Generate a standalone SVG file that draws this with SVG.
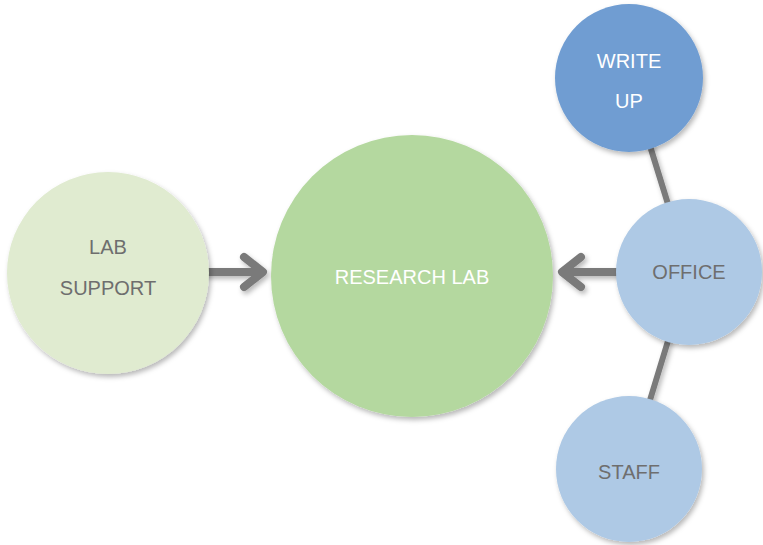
<svg xmlns="http://www.w3.org/2000/svg" width="763" height="545" viewBox="0 0 763 545">
<defs>
<filter id="sh" x="-20%" y="-20%" width="140%" height="140%">
<feDropShadow dx="2" dy="3" stdDeviation="2.5" flood-color="#000" flood-opacity="0.28"/>
</filter>
</defs>
<style>
.t{font-family:"Liberation Sans",Arial,sans-serif;font-size:20px;text-anchor:middle}
.w{fill:#ffffff}
.g{fill:#6e6e6e}
.con{fill:none;stroke:#7a7a7a;stroke-linecap:round;stroke-linejoin:round}
</style>
<rect width="763" height="545" fill="#ffffff"/>
<g id="connectors" filter="url(#sh)">
<path class="con" stroke-width="6" d="M629,78 L689,272"/>
<path class="con" stroke-width="6" d="M689,272 L629,469"/>
<path class="con" stroke-width="8" d="M205,272 L262,272 M244,257 L263,272 L244,287"/>
<path class="con" stroke-width="8" d="M620,272 L563,272 M581,257 L562,272 L581,287"/>
</g>
<g id="lab-support">
<circle cx="108" cy="273" r="101" fill="#e0ebd0" filter="url(#sh)"/>
<text class="t g" x="108" y="254">LAB</text>
<text class="t g" x="108" y="295">SUPPORT</text>
</g>
<g id="research-lab">
<circle cx="412" cy="276" r="141" fill="#b4d89f" filter="url(#sh)"/>
<text class="t w" x="412" y="284">RESEARCH LAB</text>
</g>
<g id="write-up">
<circle cx="629" cy="78" r="74" fill="#709dd2" filter="url(#sh)"/>
<text class="t w" x="629" y="68">WRITE</text>
<text class="t w" x="629" y="108">UP</text>
</g>
<g id="office">
<circle cx="689" cy="272" r="73" fill="#aec9e5" filter="url(#sh)"/>
<text class="t g" x="689" y="279">OFFICE</text>
</g>
<g id="staff">
<circle cx="629" cy="469" r="73" fill="#aec9e5" filter="url(#sh)"/>
<text class="t g" x="629" y="479">STAFF</text>
</g>
</svg>
